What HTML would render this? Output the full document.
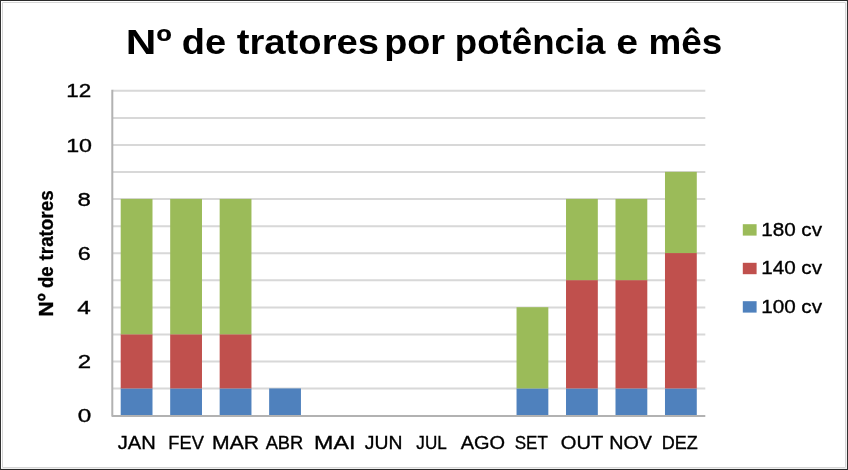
<!DOCTYPE html>
<html lang="pt"><head><meta charset="utf-8"><title>Nº de tratores por potência e mês</title>
<style>html,body{margin:0;padding:0;background:#fff;overflow:hidden}svg{display:block}</style></head>
<body>
<svg width="848" height="470" viewBox="0 0 848 470" font-family="Liberation Sans, Arial, sans-serif" fill="#000">
<rect x="0" y="0" width="848" height="470" fill="#fff"/>
<g>
<path d="M112.6 388.62H705.3M112.6 361.55H705.3M112.6 334.47H705.3M112.6 307.40H705.3M112.6 280.32H705.3M112.6 253.25H705.3M112.6 226.17H705.3M112.6 199.10H705.3M112.6 172.03H705.3M112.6 144.95H705.3M112.6 117.88H705.3M112.6 90.80H705.3" stroke="#D8D8D8" stroke-width="2" fill="none"/>
<rect x="120.70" y="388.43" width="31.80" height="27.07" fill="#4F81BD"/>
<rect x="120.70" y="334.27" width="31.80" height="54.15" fill="#C0504D"/>
<rect x="120.70" y="198.90" width="31.80" height="135.38" fill="#9BBB59"/>
<rect x="170.18" y="388.43" width="31.80" height="27.07" fill="#4F81BD"/>
<rect x="170.18" y="334.27" width="31.80" height="54.15" fill="#C0504D"/>
<rect x="170.18" y="198.90" width="31.80" height="135.38" fill="#9BBB59"/>
<rect x="219.66" y="388.43" width="31.80" height="27.07" fill="#4F81BD"/>
<rect x="219.66" y="334.27" width="31.80" height="54.15" fill="#C0504D"/>
<rect x="219.66" y="198.90" width="31.80" height="135.38" fill="#9BBB59"/>
<rect x="269.14" y="388.43" width="31.80" height="27.07" fill="#4F81BD"/>
<rect x="516.54" y="388.43" width="31.80" height="27.07" fill="#4F81BD"/>
<rect x="516.54" y="307.20" width="31.80" height="81.22" fill="#9BBB59"/>
<rect x="566.02" y="388.43" width="31.80" height="27.07" fill="#4F81BD"/>
<rect x="566.02" y="280.12" width="31.80" height="108.30" fill="#C0504D"/>
<rect x="566.02" y="198.90" width="31.80" height="81.22" fill="#9BBB59"/>
<rect x="615.50" y="388.43" width="31.80" height="27.07" fill="#4F81BD"/>
<rect x="615.50" y="280.12" width="31.80" height="108.30" fill="#C0504D"/>
<rect x="615.50" y="198.90" width="31.80" height="81.22" fill="#9BBB59"/>
<rect x="664.98" y="388.43" width="31.80" height="27.07" fill="#4F81BD"/>
<rect x="664.98" y="253.05" width="31.80" height="135.38" fill="#C0504D"/>
<rect x="664.98" y="171.83" width="31.80" height="81.22" fill="#9BBB59"/>
<path d="M112.3 89.80V415.90H705.3" stroke="#B2B2B2" stroke-width="2" stroke-linejoin="round" fill="none"/>
<g>
<text transform="translate(125.64,53.80) scale(1.1994,1)" font-size="35.35" font-weight="bold">Nº</text>
<text transform="translate(181.68,53.80) scale(1.0747,1)" font-size="35.35" font-weight="bold">de</text>
<text transform="translate(236.72,53.80) scale(1.0816,1)" font-size="35.35" font-weight="bold">tratores</text>
<text transform="translate(384.14,53.80) scale(1.0689,1)" font-size="35.35" font-weight="bold">por</text>
<text transform="translate(454.82,53.80) scale(1.0367,1)" font-size="35.35" font-weight="bold">potência</text>
<text transform="translate(616.13,53.80) scale(1.1082,1)" font-size="35.35" font-weight="bold">e</text>
<text transform="translate(648.41,53.80) scale(1.0421,1)" font-size="35.35" font-weight="bold">mês</text>
</g>
<g stroke="#000" stroke-width="0.35" class="t">
<text transform="translate(66.22,97.40) scale(1.1846,1)" font-size="18.94">12</text>
<text transform="translate(66.16,151.55) scale(1.2280,1)" font-size="18.94">10</text>
<text transform="translate(77.48,205.70) scale(1.2694,1)" font-size="18.94">8</text>
<text transform="translate(77.83,259.85) scale(1.2329,1)" font-size="18.94">6</text>
<text transform="translate(77.35,314.00) scale(1.2860,1)" font-size="18.94">4</text>
<text transform="translate(77.70,368.15) scale(1.2648,1)" font-size="18.94">2</text>
<text transform="translate(77.63,422.30) scale(1.2826,1)" font-size="18.94">0</text>
</g>
<g stroke="#000" stroke-width="0.35" class="t">
<text transform="translate(117.80,448.90) scale(1.0733,1)" font-size="18.76">JAN</text>
<text transform="translate(168.29,448.90) scale(0.9755,1)" font-size="18.76">FEV</text>
<text transform="translate(212.05,448.90) scale(1.1283,1)" font-size="18.76">MAR</text>
<text transform="translate(265.65,448.90) scale(0.9770,1)" font-size="18.76">ABR</text>
<text transform="translate(314.08,448.90) scale(1.2372,1)" font-size="18.76">MAI</text>
<text transform="translate(364.81,448.90) scale(1.0327,1)" font-size="18.76">JUN</text>
<text transform="translate(416.34,448.90) scale(0.9119,1)" font-size="18.76">JUL</text>
<text transform="translate(460.75,448.90) scale(1.0647,1)" font-size="18.76">AGO</text>
<text transform="translate(514.73,448.90) scale(0.9083,1)" font-size="18.76">SET</text>
<text transform="translate(560.74,448.90) scale(1.0737,1)" font-size="18.76">OUT</text>
<text transform="translate(609.17,448.90) scale(1.0531,1)" font-size="18.76">NOV</text>
<text transform="translate(661.71,448.90) scale(0.9600,1)" font-size="18.76">DEZ</text>
</g>
<g stroke="#000" stroke-width="0.35" class="t">
<rect x="742.8" y="224.2" width="13.8" height="11.4" fill="#9BBB59" stroke="none"/>
<text transform="translate(761.15,235.60) scale(1.0919,1)" font-size="18.94">180 cv</text>
<rect x="742.8" y="262.8" width="13.8" height="11.4" fill="#C0504D" stroke="none"/>
<text transform="translate(761.15,274.20) scale(1.0919,1)" font-size="18.94">140 cv</text>
<rect x="742.8" y="301.2" width="13.8" height="11.4" fill="#4F81BD" stroke="none"/>
<text transform="translate(761.15,312.60) scale(1.0919,1)" font-size="18.94">100 cv</text>
</g>
<g stroke="#000" stroke-width="0.3">
<text transform="translate(52.7,316.85) rotate(-90) scale(1.0506,1)" font-size="20.51" font-weight="bold">Nº</text>
<text transform="translate(52.7,287.94) rotate(-90) scale(0.9015,1)" font-size="20.51" font-weight="bold">de</text>
<text transform="translate(52.7,260.44) rotate(-90) scale(0.9180,1)" font-size="20.51" font-weight="bold">tratores</text>
</g>
</g>
<path d="M2.5 2.5H845.5V467.5H2.5Z" stroke="#D6D6D6" stroke-width="1" fill="none"/>
<path d="M0 468.5H848" stroke="#EEEEEE" stroke-width="1" fill="none"/>
<path d="M846.5 0V470" stroke="#F2F2F2" stroke-width="1" fill="none"/>
<path d="M0 0.5H848M0 469.5H848" stroke="#2A2A2A" stroke-width="1" fill="none"/>
<path d="M0.5 0V470M847.5 0V470" stroke="#323232" stroke-width="1" fill="none"/>
</svg>
</body></html>
